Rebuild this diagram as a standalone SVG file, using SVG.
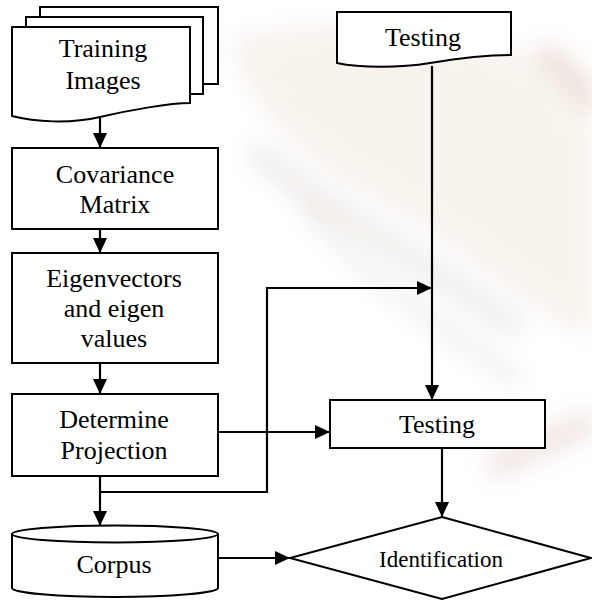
<svg xmlns="http://www.w3.org/2000/svg" width="592" height="600" viewBox="0 0 592 600">
<style>
.shape{fill:#fff;stroke:#000;stroke-width:2}
.lbl{font-family:"Liberation Serif","Times New Roman",serif;font-size:26px;fill:#000;text-anchor:middle}
.small{font-size:23px}
.conn{fill:none;stroke:#000;stroke-width:2.2}
</style>
<defs>
<marker id="ah" markerUnits="userSpaceOnUse" markerWidth="16" markerHeight="16" viewBox="0 0 16 16" refX="15" refY="8" orient="auto">
<path d="M0,1 L15,8 L0,15 Z" fill="#000"/>
</marker>
<filter id="blur" x="-20%" y="-20%" width="140%" height="140%"><feGaussianBlur stdDeviation="12"/></filter>
</defs>
<rect width="592" height="600" fill="#fff"/>
<g id="watermark" filter="url(#blur)" opacity="0.5">
<path d="M230,40 C330,10 480,30 560,70 L592,140 L592,340 C520,300 450,240 380,200 C320,170 260,130 230,40 Z" fill="#efe6da"/>
<path d="M250,150 C330,210 420,260 520,330" stroke="#d9d2c8" stroke-width="18" fill="none"/>
<path d="M300,200 C360,270 440,330 520,380" stroke="#e2dcd3" stroke-width="14" fill="none"/>
<path d="M540,50 C570,70 585,90 592,110" stroke="#d8b8a8" stroke-width="20" fill="none"/>
<path d="M490,470 C520,450 560,440 592,420" stroke="#dcc4b8" stroke-width="22" fill="none"/>
</g>
<g id="training">
<rect class="shape" x="40" y="7" width="178" height="77"/>
<rect class="shape" x="26" y="17" width="177" height="77"/>
<path class="shape" d="M12,27 H190 V103 C170,103 130,110 100,117 C70,124 35,122 12,116 Z"/>
<text class="lbl" x="103" y="57">Training</text>
<text class="lbl" x="103" y="89">Images</text>
</g>
<g id="covariance">
<rect class="shape" x="12" y="148" width="206" height="81"/>
<text class="lbl" x="115" y="183">Covariance</text>
<text class="lbl" x="115" y="213">Matrix</text>
</g>
<g id="eigen">
<rect class="shape" x="12" y="253" width="206" height="110"/>
<text class="lbl" x="114" y="287">Eigenvectors</text>
<text class="lbl" x="114" y="317">and eigen</text>
<text class="lbl" x="114" y="347">values</text>
</g>
<g id="projection">
<rect class="shape" x="12" y="394" width="206" height="82"/>
<text class="lbl" x="114" y="428">Determine</text>
<text class="lbl" x="114" y="459">Projection</text>
</g>
<g id="corpus">
<path class="shape" d="M12,534 V588 A103,9 0 0 0 218,588 V534"/>
<ellipse class="shape" cx="115" cy="534" rx="103" ry="8.5"/>
<text class="lbl" x="114" y="573">Corpus</text>
</g>
<g id="testing-input">
<path class="shape" d="M337,12 H511 V55 C490,55 460,58 430,63 C400,68 360,68 337,63 Z"/>
<text class="lbl" x="423" y="46">Testing</text>
</g>
<g id="testing">
<rect class="shape" x="330" y="400" width="215" height="48"/>
<text class="lbl" x="437" y="433">Testing</text>
</g>
<g id="identification">
<path class="shape" d="M442,517 L591,558 L442,599 L290,558 Z"/>
<text class="lbl small" x="441" y="567">Identification</text>
</g>
<g id="connectors">
<path class="conn" d="M100,118 V148" marker-end="url(#ah)"/>
<path class="conn" d="M100,229 V253" marker-end="url(#ah)"/>
<path class="conn" d="M100,363 V394" marker-end="url(#ah)"/>
<path class="conn" d="M100,476 V526" marker-end="url(#ah)"/>
<path class="conn" d="M218,432 H330" marker-end="url(#ah)"/>
<path class="conn" d="M100,492 H267 V288 H432" marker-end="url(#ah)"/>
<path class="conn" d="M432,66 V400" marker-end="url(#ah)"/>
<path class="conn" d="M442,448 V517" marker-end="url(#ah)"/>
<path class="conn" d="M218,558 H290" marker-end="url(#ah)"/>
</g>
</svg>
